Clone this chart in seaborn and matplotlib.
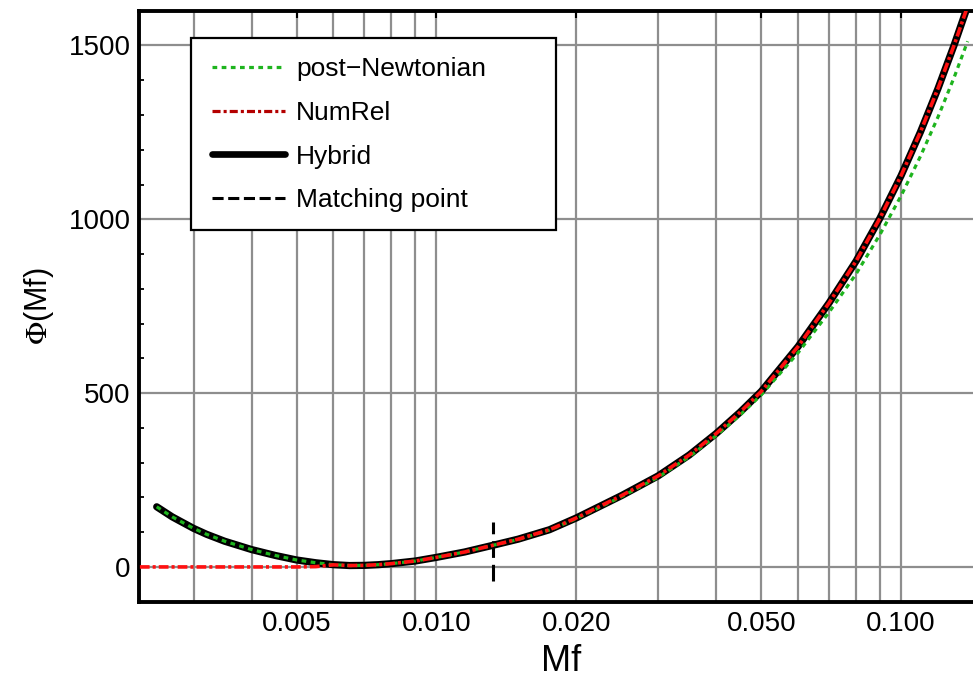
import numpy as np
import pandas as pd
import matplotlib
matplotlib.use("Agg")
import matplotlib.pyplot as plt
import seaborn as sns
from matplotlib.lines import Line2D
from matplotlib.patches import Rectangle
from matplotlib.ticker import FixedLocator, LogLocator, MultipleLocator, NullFormatter

# ---------------- data ----------------
mf = [0.0025, 0.0027, 0.003, 0.0032, 0.0035, 0.004, 0.0045, 0.005, 0.0055,
      0.006, 0.0065, 0.007, 0.0075, 0.008, 0.009, 0.010, 0.0115, 0.0132,
      0.015, 0.0175, 0.020, 0.025, 0.030, 0.035, 0.040, 0.045, 0.050,
      0.060, 0.070, 0.080, 0.090, 0.100, 0.110, 0.120, 0.130, 0.139]
hybrid = [173, 144, 111, 94, 74, 50, 33, 20, 12,
          6.5, 4, 4.5, 6.5, 9.5, 17, 27.5, 43, 62,
          80, 107, 141, 205, 262, 322, 384, 445, 505,
          634, 760, 880, 1003, 1126, 1251, 1376, 1501, 1613]
post_newtonian = [173, 144, 111, 94, 74, 50, 33, 20, 12,
                  6.5, 4, 4.5, 6.5, 9.5, 17, 27.5, 43, 62,
                  79, 106, 139, 202, 258, 317, 378, 437, 495,
                  616, 733, 843, 956, 1068, 1181, 1294, 1408, 1512]
nr_mf = [0.0023, 0.003, 0.004, 0.005, 0.0055, 0.006, 0.0065, 0.007, 0.0075,
         0.008, 0.009, 0.010, 0.0115, 0.0132, 0.015, 0.0175, 0.020, 0.025,
         0.030, 0.035, 0.040, 0.045, 0.050, 0.060, 0.070, 0.080, 0.090,
         0.100, 0.110, 0.120, 0.130, 0.139]
numrel = [0, 0, 0, 0, 1, 6, 4, 4.5, 6.5,
          9.5, 17, 27.5, 43, 62, 80, 107, 141, 205,
          262, 322, 384, 445, 505, 634, 760, 880, 1003,
          1126, 1251, 1376, 1501, 1613]
match_mf = 0.0132
match_span = [-40, 128]

xtick_vals = [0.005, 0.010, 0.020, 0.050, 0.100]
xtick_labels = ["0.005", "0.010", "0.020", "0.050", "0.100"]
ytick_vals = [0, 500, 1000, 1500]
ytick_labels = ["0", "500", "1000", "1500"]
legend_labels = ["post\u2212Newtonian", "NumRel", "Hybrid", "Matching point"]

# ---------------- style ----------------
sns.set_style("white")
plt.rcParams["font.family"] = ["Liberation Sans", "DejaVu Sans"]
plt.rcParams["mathtext.fontset"] = "stix"
plt.rcParams["lines.scale_dashes"] = False
plt.rcParams["text.color"] = "black"
plt.rcParams["axes.labelcolor"] = "black"
plt.rcParams["xtick.color"] = "black"
plt.rcParams["ytick.color"] = "black"

PN_COLOR = "#1eb41e"
NR_COLOR = "#ff1010"
NR_LEG = "#b40000"

fig = plt.figure(figsize=(9.73, 6.82), dpi=100)
W, H = 973, 682
L, R, T, B = 139, 983, 10.7, 601.7
ax = fig.add_axes([L / W, 1 - B / H, (R - L) / W, (B - T) / H])

df_h = pd.DataFrame({"mf": mf, "phi": hybrid})
df_pn = pd.DataFrame({"mf": mf, "phi": post_newtonian})
df_nr = pd.DataFrame({"mf": nr_mf, "phi": numrel})

sns.lineplot(x=[match_mf, match_mf], y=match_span, ax=ax, color="black",
             lw=2.2, linestyle=(0, (12, 5)), estimator=None, sort=False, zorder=2)
sns.lineplot(data=df_h, x="mf", y="phi", ax=ax, color="black", lw=5.2,
             estimator=None, sort=False, zorder=3)
sns.lineplot(data=df_pn, x="mf", y="phi", ax=ax, color=PN_COLOR, lw=2.3,
             linestyle=(0, (3.4, 3.2)), estimator=None, sort=False, zorder=4)
sns.lineplot(data=df_nr, x="mf", y="phi", ax=ax, color=NR_COLOR, lw=2.6,
             linestyle=(0, (7, 2.2, 2.2, 2.2)), estimator=None, sort=False, zorder=5)

ax.set_xscale("log")
ax.set_xlim(0.00229, 0.15)
ax.set_ylim(-100, 1600)

ax.xaxis.set_major_locator(FixedLocator(xtick_vals))
ax.set_xticklabels(xtick_labels)
ax.xaxis.set_minor_locator(LogLocator(base=10, subs=np.arange(1, 10)))
ax.xaxis.set_minor_formatter(NullFormatter())
ax.yaxis.set_major_locator(FixedLocator(ytick_vals))
ax.set_yticklabels(ytick_labels)
ax.yaxis.set_minor_locator(MultipleLocator(100))

ax.set_axisbelow(True)
ax.grid(True, which="major", axis="both", color="#8e8e8e", lw=1.6)
ax.grid(True, which="minor", axis="x", color="#8e8e8e", lw=1.6)

ax.tick_params(axis="both", which="major", direction="in", length=5, width=1.5,
               labelsize=20, top=True, right=True, color="black",
               labelcolor="black")
ax.tick_params(axis="y", which="minor", direction="in", length=3.6, width=1.3,
               left=True, right=True, color="black")
ax.tick_params(axis="x", which="minor", length=0)
ax.tick_params(axis="x", which="major", pad=7)
ax.tick_params(axis="y", which="major", pad=6)

for s in ax.spines.values():
    s.set_linewidth(2.8)
    s.set_color("black")

ax.set_xlabel("Mf", fontsize=26, labelpad=5, color="black")
ax.set_ylabel(r"$\Phi$(Mf)", fontsize=22, labelpad=9, color="black")

# legend frame (Mathematica-style box) and entries
ax_w, ax_h = R - L, B - T
box = Rectangle(((191 - L) / ax_w, (B - 230) / ax_h), (556 - 191) / ax_w,
                (230 - 38) / ax_h, transform=ax.transAxes, facecolor="white",
                edgecolor="black", lw=1.6, zorder=10)
ax.add_patch(box)
handles = [
    Line2D([], [], color=PN_COLOR, lw=2.3, linestyle=(0, (3.4, 3.2))),
    Line2D([], [], color=NR_LEG, lw=2.3, linestyle=(0, (5.8, 2.2, 2.2, 2.2))),
    Line2D([], [], color="black", lw=4.8),
    Line2D([], [], color="black", lw=2.2, linestyle=(0, (8, 3.3))),
]
leg = ax.legend(handles, legend_labels, loc="upper left",
                bbox_to_anchor=((212 - L) / ax_w, (B - 57) / ax_h),
                frameon=False, borderpad=0, borderaxespad=0, fontsize=19,
                handlelength=2.76, handletextpad=0.42, labelspacing=0.75,
                labelcolor="black")
leg.set_zorder(11)

fig.savefig("out.png", dpi=100)
